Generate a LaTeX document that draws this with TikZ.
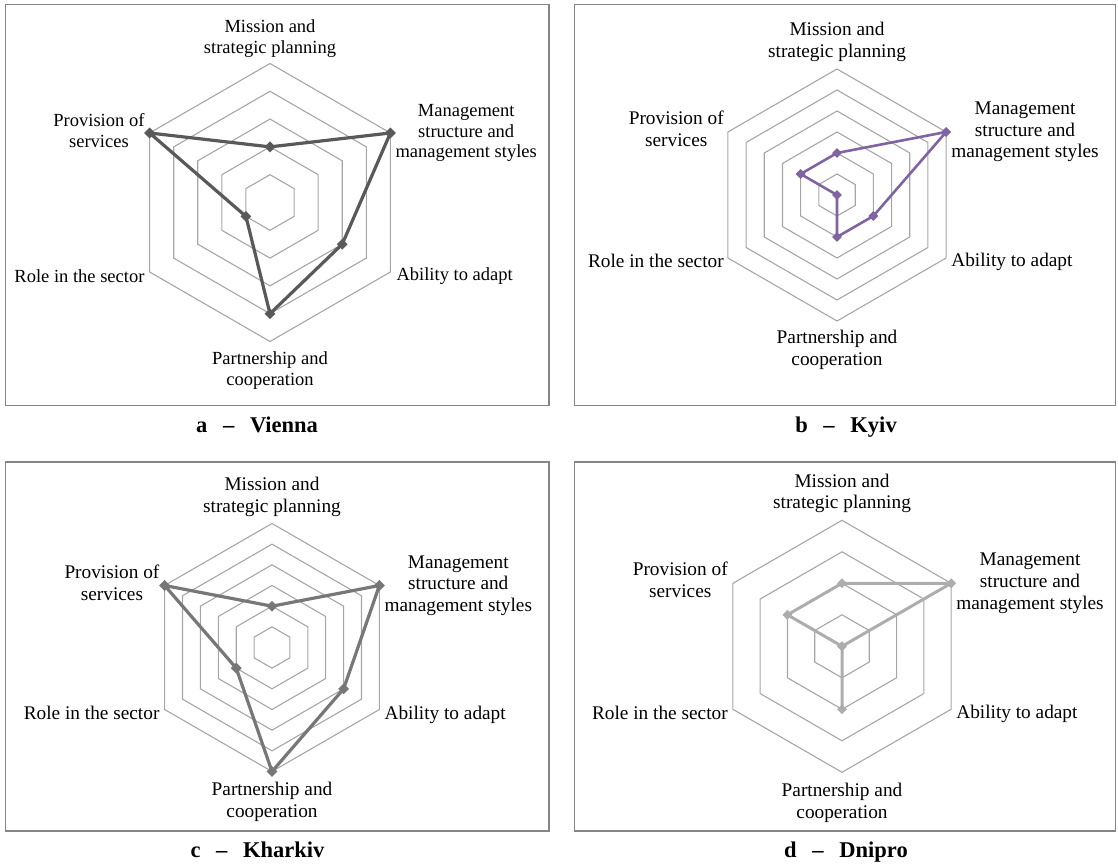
\documentclass[tikz,border=0pt]{standalone}
\usepackage{fontspec}
\setmainfont{Liberation Serif}
\usetikzlibrary{positioning, shapes.geometric}

\definecolor{ringgray}{HTML}{A6A6A6}
\definecolor{boxgray}{HTML}{858585}
\definecolor{viennacol}{HTML}{595959}
\definecolor{kyivcol}{HTML}{8064A2}
\definecolor{kharkivcol}{HTML}{777777}
\definecolor{dniprocol}{HTML}{ADADAD}

\begin{document}
\begin{tikzpicture}[x=1pt, y=1pt,
    ring/.style={draw=ringgray, line width=1.1pt, line join=miter},
    panelbox/.style={draw=boxgray, line width=1.6pt},
    axislab/.style={align=center, inner sep=0pt, font=\fontsize{19.3}{21.7}\selectfont},
    smalllab/.style={axislab, font=\fontsize{18.5}{20.6}\selectfont},
    capt/.style={anchor=base, inner sep=0pt, font=\bfseries\fontsize{22.5}{26}\selectfont},
    trace/.style={line width=3.2pt, line join=round},
    datamark/.style={diamond, inner sep=0pt, minimum size=11pt, draw=none}]

\useasboundingbox (0,0) rectangle (1118,866);

% Panel a: Vienna
\draw[panelbox] (5.5,460.3) rectangle (549,861.5);
\begin{scope}[shift={(270,663.5)}]
    \foreach \k [evaluate=\k as \rr using \k*139/5] in {1,...,5}
        \draw[ring] (90:\rr) -- (30:\rr) -- (-30:\rr) -- (-90:\rr) -- (-150:\rr) -- (150:\rr) -- cycle;
    \coordinate (a-t)  at (90:139);
    \coordinate (a-ur) at (30:139);
    \coordinate (a-lr) at (-30:139);
    \coordinate (a-b)  at (-90:139);
    \coordinate (a-ll) at (-150:139);
    \coordinate (a-ul) at (150:139);
    % values 2 5 3 4 1 5
    \coordinate (a-v1) at (90:55.6);
    \coordinate (a-v2) at (30:139);
    \coordinate (a-v3) at (-30:83.4);
    \coordinate (a-v4) at (-90:111.2);
    \coordinate (a-v5) at (-150:27.8);
    \coordinate (a-v6) at (150:139);
\end{scope}
\node[smalllab, above=6pt of a-t] (a-mis) {Mission and\\strategic planning};
\node[smalllab, right=5pt of a-ur] (a-man) {Management\\structure and\\management styles};
\node[smalllab, right=6pt of a-lr, yshift=-4pt] (a-abl) {Ability to adapt};
\node[smalllab, below=10pt of a-b] (a-par) {Partnership and\\cooperation};
\node[smalllab, left=5pt of a-ll, yshift=-4pt] (a-rol) {Role in the sector};
\node[smalllab, left=5pt of a-ul, yshift=2.5pt] (a-pro) {Provision of\\services};
\draw[trace, viennacol] (a-v1) -- (a-v2) -- (a-v3) -- (a-v4) -- (a-v5) -- (a-v6) -- cycle;
\foreach \p in {a-v1,a-v2,a-v3,a-v4,a-v5,a-v6}
    \node[datamark, fill=viennacol] (m-\p) at (\p) {};
\node[capt] (a-cap) at (257,433.7) {a\hspace{0.7em}–\hspace{0.7em}Vienna};

% Panel b: Kyiv
\draw[panelbox] (574.3,460.3) rectangle (1115.5,861.5);
\begin{scope}[shift={(837,671)}]
    \foreach \k [evaluate=\k as \rr using \k*21] in {1,...,6}
        \draw[ring] (90:\rr) -- (30:\rr) -- (-30:\rr) -- (-90:\rr) -- (-150:\rr) -- (150:\rr) -- cycle;
    \coordinate (b-t)  at (90:126);
    \coordinate (b-ur) at (30:126);
    \coordinate (b-lr) at (-30:126);
    \coordinate (b-b)  at (-90:126);
    \coordinate (b-ll) at (-150:126);
    \coordinate (b-ul) at (150:126);
    % values 2 6 2 2 0 2
    \coordinate (b-v1) at (90:42);
    \coordinate (b-v2) at (30:126);
    \coordinate (b-v3) at (-30:42);
    \coordinate (b-v4) at (-90:42);
    \coordinate (b-v5) at (-150:0);
    \coordinate (b-v6) at (150:42);
\end{scope}
\node[axislab, above=7pt of b-t] (b-mis) {Mission and\\strategic planning};
\node[axislab, right=5pt of b-ur] (b-man) {Management\\structure and\\management styles};
\node[axislab, right=5pt of b-lr, yshift=-4pt] (b-abl) {Ability to adapt};
\node[axislab, below=9pt of b-b] (b-par) {Partnership and\\cooperation};
\node[axislab, left=4pt of b-ll, yshift=-3pt] (b-rol) {Role in the sector};
\node[axislab, left=4pt of b-ul, yshift=3pt] (b-pro) {Provision of\\services};
\draw[trace, kyivcol, line width=2.6pt] (b-v1) -- (b-v2) -- (b-v3) -- (b-v4) -- (b-v5) -- (b-v6) -- cycle;
\foreach \p in {b-v1,b-v2,b-v3,b-v4,b-v5,b-v6}
    \node[datamark, fill=kyivcol, minimum size=10pt] (m-\p) at (\p) {};
\node[capt] (b-cap) at (846,433.7) {b\hspace{0.7em}–\hspace{0.7em}Kyiv};

% Panel c: Kharkiv
\draw[panelbox] (5.5,35) rectangle (549,404);
\begin{scope}[shift={(272,218.5)}]
    \foreach \k [evaluate=\k as \rr using \k*124/6] in {1,...,6}
        \draw[ring] (90:\rr) -- (30:\rr) -- (-30:\rr) -- (-90:\rr) -- (-150:\rr) -- (150:\rr) -- cycle;
    \coordinate (c-t)  at (90:124);
    \coordinate (c-ur) at (30:124);
    \coordinate (c-lr) at (-30:124);
    \coordinate (c-b)  at (-90:124);
    \coordinate (c-ll) at (-150:124);
    \coordinate (c-ul) at (150:124);
    % values 2 6 4 6 2 6
    \coordinate (c-v1) at (90:41.3);
    \coordinate (c-v2) at (30:124);
    \coordinate (c-v3) at (-30:82.7);
    \coordinate (c-v4) at (-90:124);
    \coordinate (c-v5) at (-150:41.3);
    \coordinate (c-v6) at (150:124);
\end{scope}
\node[axislab, above=7pt of c-t] (c-mis) {Mission and\\strategic planning};
\node[axislab, right=5pt of c-ur] (c-man) {Management\\structure and\\management styles};
\node[axislab, right=5pt of c-lr, yshift=-5pt] (c-abl) {Ability to adapt};
\node[axislab, below=10.5pt of c-b] (c-par) {Partnership and\\cooperation};
\node[axislab, left=5pt of c-ll, yshift=-3.5pt] (c-rol) {Role in the sector};
\node[axislab, left=5pt of c-ul, yshift=3pt] (c-pro) {Provision of\\services};
\draw[trace, kharkivcol] (c-v1) -- (c-v2) -- (c-v3) -- (c-v4) -- (c-v5) -- (c-v6) -- cycle;
\foreach \p in {c-v1,c-v2,c-v3,c-v4,c-v5,c-v6}
    \node[datamark, fill=kharkivcol] (m-\p) at (\p) {};
\node[capt] (c-cap) at (257.5,8.3) {c\hspace{0.7em}–\hspace{0.7em}Kharkiv};

% Panel d: Dnipro
\draw[panelbox] (574.3,35) rectangle (1115.5,404);
\begin{scope}[shift={(842,219.7)}]
    \foreach \k [evaluate=\k as \rr using \k*31.5] in {1,...,4}
        \draw[ring] (90:\rr) -- (30:\rr) -- (-30:\rr) -- (-90:\rr) -- (-150:\rr) -- (150:\rr) -- cycle;
    \coordinate (d-t)  at (90:126);
    \coordinate (d-ur) at (30:126);
    \coordinate (d-lr) at (-30:126);
    \coordinate (d-b)  at (-90:126);
    \coordinate (d-ll) at (-150:126);
    \coordinate (d-ul) at (150:126);
    % values 2 4 0 2 0 2
    \coordinate (d-v1) at (90:63);
    \coordinate (d-v2) at (30:126);
    \coordinate (d-v3) at (-30:0);
    \coordinate (d-v4) at (-90:63);
    \coordinate (d-v5) at (-150:0);
    \coordinate (d-v6) at (150:63);
\end{scope}
\node[axislab, above=7pt of d-t] (d-mis) {Mission and\\strategic planning};
\node[axislab, right=5pt of d-ur] (d-man) {Management\\structure and\\management styles};
\node[axislab, right=5pt of d-lr, yshift=-5pt] (d-abl) {Ability to adapt};
\node[axislab, below=10.5pt of d-b] (d-par) {Partnership and\\cooperation};
\node[axislab, left=5pt of d-ll, yshift=-3.5pt] (d-rol) {Role in the sector};
\node[axislab, left=5pt of d-ul, yshift=3.5pt] (d-pro) {Provision of\\services};
\draw[trace, dniprocol, line width=3pt] (d-v1) -- (d-v2) -- (d-v3) -- (d-v4) -- (d-v5) -- (d-v6) -- cycle;
\foreach \p in {d-v1,d-v2,d-v3,d-v4,d-v5,d-v6}
    \node[datamark, fill=dniprocol, minimum size=10pt] (m-\p) at (\p) {};
\node[capt] (d-cap) at (846,8.3) {d\hspace{0.7em}–\hspace{0.7em}Dnipro};

\end{tikzpicture}
\end{document}
